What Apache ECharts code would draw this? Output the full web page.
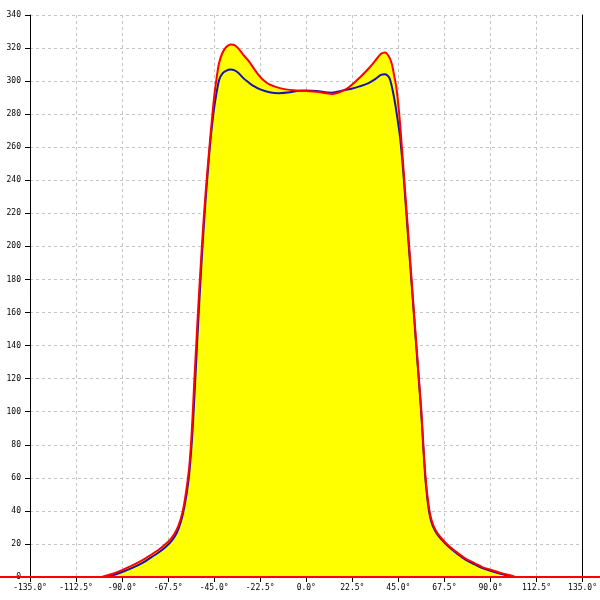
<!DOCTYPE html>
<html>
<head>
<meta charset="utf-8">
<script src="https://cdn.jsdelivr.net/npm/echarts@6/dist/echarts.min.js"></script>
<style>html,body{margin:0;padding:0;background:#fff}#c{width:600px;height:600px}</style>
</head>
<body>
<div id="c"></div>
<script>
// angle (deg) / value pairs
const redAngles = [-100,-95,-90,-85,-80,-76,-72,-69,-66.5,-64.5,-62.5,-60.5,-58.8,-57.2,-55.9,-54.7,-53.7,-52.7,-51.7,-50.7,-49.7,-48.7,-47.6,-46.6,-45,-43.8,-42.6,-41,-39,-37,-35,-33,-30.5,-28,-25,-22.5,-20,-18,-15,-10,-5,0,5,10,12.5,15,17.5,20.5,23,26,30,33.8,36.5,38.5,40.3,41.7,43,44.2,45.8,47.9,50.4,52.9,55.1,56.3,57.2,58.3,59.3,60.2,61.2,62.5,64.5,67.7,70,74.2,78,82.3,86,90.4,95,100,102];
const redValues = [0,1.8,4.2,7,10.2,13.3,16.6,19.6,22.6,26,31,39,51,66.5,89,119,142,165,186,206,224,240,256,270,290.6,302,311,317,320.8,322.2,321.8,319.5,315.5,312,306.5,302.5,299.6,298,296.5,295,294.3,294,293.6,292.6,292.2,292.8,294,296,298.5,302,307,312.5,316.5,317.3,315,310.8,303,294.6,274.7,240,198,155.5,119,99,80,60,48,40,34.5,30,25.8,21.2,18.5,14.3,11,8.3,6,4.2,2.4,1.0,0];
const blueAngles = [-99,-95,-90,-85,-80,-76,-72,-69,-66.5,-64.5,-62.5,-60.5,-58.5,-57,-55.6,-54.3,-53.2,-52.2,-51.2,-50.2,-49.2,-48.2,-47,-45.8,-44.5,-42.6,-41,-39,-37,-35,-33,-30.5,-28,-26.5,-22.5,-18,-13.4,-8,-3.6,0,5,12.4,18,22.5,26,30.4,34,36.5,38.5,40,41,42.2,43.4,44.6,45.8,47.4,50.1,52.7,55,56.2,57.1,58.2,59.2,60.1,61.1,62.5,64.5,67.7,70,74.2,78,82.3,86,90.4,95,99,101];
const blueValues = [0,0.9,3,5.5,8.5,11.7,15,17.9,20.8,24,29,37,50,65,88,118,145,168,190,210,228,244,262,276,288,300.7,304.5,306.3,307,306.5,304.8,301.5,299,297.6,295,293.3,292.7,293.2,294.2,294.3,294,293,294.3,295.5,296.8,298.8,301.5,303.8,304.2,303,300.7,294.5,286.6,277,266.4,245,200,157,119,99,80,59.5,47,39,33.5,29,25,20.5,17.8,13.6,10.3,7.6,5.4,3.6,1.9,0.6,0];
// zero baseline drawn across the whole picture
const baselineX = [-1, 1];
const baselineY = [0, 0];
const xTickStep = 22.5;
const yTickStep = 20;

const redData = redAngles.map((a, i) => [a, redValues[i]]);
const blueData = blueAngles.map((a, i) => [a, blueValues[i]]);
const baseData = baselineX.map((a, i) => [a, baselineY[i]]);

const font = { fontFamily: 'DejaVu Sans Mono', fontSize: 8, color: '#000' };
const split = { show: true, lineStyle: { color: '#c4c4c4', type: [3, 3], width: 1 } };
const chart = echarts.init(document.getElementById('c'));
chart.setOption({
  animation: false,
  backgroundColor: '#fff',
  grid: [
    { left: 30, right: 15, top: 15, bottom: 23 },
    { left: 0, right: 0, top: 15, bottom: 23 }
  ],
  xAxis: [{
    type: 'value', min: -135, max: 135, interval: xTickStep, gridIndex: 0,
    axisLine: { show: true, onZero: false, lineStyle: { color: '#000', width: 1 } },
    axisTick: { show: true, length: 5, lineStyle: { color: '#000' } },
    axisLabel: Object.assign({ margin: 7, formatter: v => v.toFixed(1) + '°' }, font),
    splitLine: split
  }, {
    type: 'value', min: -1, max: 1, gridIndex: 1, show: false
  }],
  yAxis: [{
    type: 'value', min: 0, max: 340, interval: yTickStep, gridIndex: 0,
    axisLine: { show: true, onZero: false, lineStyle: { color: '#000', width: 1 } },
    axisTick: { show: true, length: 5, lineStyle: { color: '#000' } },
    axisLabel: Object.assign({ margin: 9 }, font),
    splitLine: split
  }, {
    type: 'value', min: 0, max: 340, interval: yTickStep, position: 'right', gridIndex: 0,
    axisLine: { show: true, onZero: false, lineStyle: { color: '#000', width: 1 } },
    axisTick: { show: false }, axisLabel: { show: false }, splitLine: { show: false }
  }, {
    type: 'value', min: 0, max: 340, gridIndex: 1, show: false
  }],
  series: [
    {
      type: 'line', data: redData, smooth: 0.3, symbol: 'none',
      lineStyle: { width: 0, opacity: 0 }, areaStyle: { color: '#ffff00', opacity: 1 }, z: 2
    },
    {
      type: 'line', data: blueData, smooth: 0.3, symbol: 'none',
      lineStyle: { color: '#1414b4', width: 2 }, z: 3
    },
    {
      type: 'line', data: redData, smooth: 0.3, symbol: 'none',
      lineStyle: { color: '#ff0000', width: 2 }, z: 4
    },
    {
      type: 'line', data: baseData, xAxisIndex: 1, yAxisIndex: 2, symbol: 'none',
      lineStyle: { color: '#ff0000', width: 2 }, z: 4
    }
  ]
});
</script>
</body>
</html>
